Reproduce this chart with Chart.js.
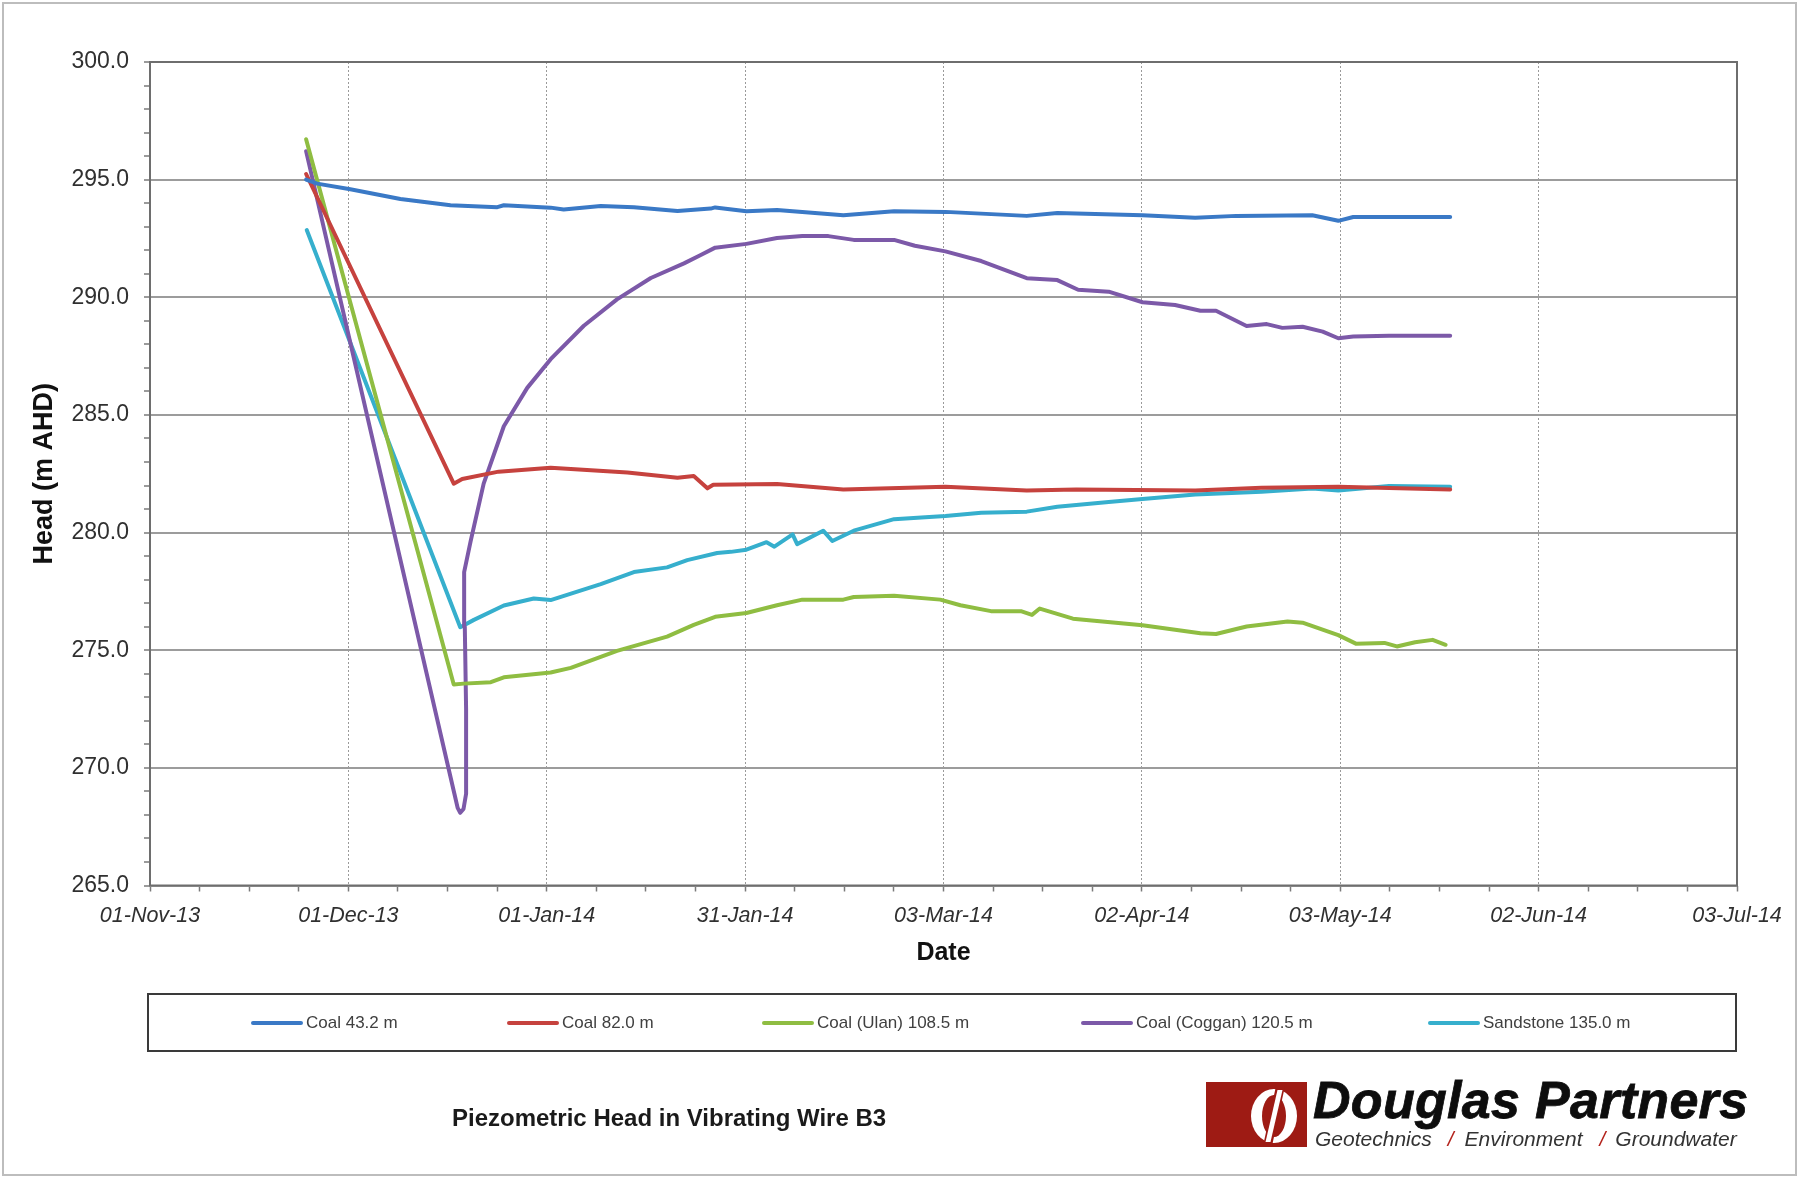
<!DOCTYPE html>
<html lang="en">

<head>
    <meta charset="UTF-8">
    <title>Piezometric Head in Vibrating Wire B3</title>
    <script src="https://cdn.jsdelivr.net/npm/chart.js"></script>
    <style>
        body { margin: 0; background: #fff; font-family: "Liberation Sans", Arial, sans-serif; }
        #wrap { position: relative; width: 1803px; height: 1180px; overflow: hidden; background: #fff; }
        #chart { position: absolute; left: 0; top: 0; }
        #frame { position: absolute; left: 2px; top: 2px; width: 1795px; height: 1174px; border: 2px solid #bdbdbd; box-sizing: border-box; }
        #legend { position: absolute; left: 147px; top: 993px; width: 1590px; height: 59px; border: 2px solid #3a3a3a; box-sizing: border-box; }
        #legend .item { position: absolute; top: 0; height: 55px; display: flex; align-items: center; }
        #legend .item i { display: block; width: 52px; height: 4px; border-radius: 2px; margin-right: 3px; }
        #legend .item span { font-size: 17px; color: #404040; white-space: nowrap; }
        #caption { position: absolute; left: 452px; top: 1104px; font-size: 24px; line-height: 28px; font-weight: bold; color: #1a1a1a; white-space: nowrap; }
        #logoMark { position: absolute; left: 1206px; top: 1082px; }
        #logoName { position: absolute; left: 1313px; top: 1074px; font-size: 52px; line-height: 52px; font-weight: bold; font-style: italic; color: #0d0d0d; white-space: nowrap; letter-spacing: 0.3px; -webkit-text-stroke: 0.8px #0d0d0d; }
        #logoTag { position: absolute; left: 1315px; top: 1128px; font-size: 21px; line-height: 21px; font-style: italic; color: #333; white-space: nowrap; }
        #logoTag b { font-weight: normal; color: #b3221b; }
    </style>
</head>

<body>
    <div id="wrap">
        <canvas id="chart" width="1803" height="1180"></canvas>
        <div id="legend"></div>
        <div id="caption">Piezometric Head in Vibrating Wire B3</div>
        <svg id="logoMark" width="101" height="65" viewBox="0 0 101 65">
            <rect x="0" y="0" width="101" height="65" fill="#9e1b14" />
            <ellipse cx="68" cy="34" rx="23" ry="27" fill="#fff" />
            <ellipse cx="68" cy="34" rx="12" ry="21" fill="#9e1b14" />
            <polygon points="70,4 79,4 66,64 57,64" fill="#9e1b14" />
            <polygon points="71.5,8 76.5,8 64.5,60 59.5,60" fill="#fff" />
        </svg>
        <div id="logoName">Douglas Partners</div>
        <div id="logoTag">Geotechnics<b style="margin:0 11px 0 16px">/</b>Environment<b style="margin:0 10px 0 17px">/</b>Groundwater</div>
        <div id="frame"></div>
    </div>

    <script>
        // x axis runs in days counted from 01-Nov-13, major unit 30.5 days (as in the Excel sheet)
        const xTickLabels = ['01-Nov-13', '01-Dec-13', '01-Jan-14', '31-Jan-14', '03-Mar-14',
            '02-Apr-14', '03-May-14', '02-Jun-14', '03-Jul-14'];

        const seriesNames = ['Coal 43.2 m', 'Coal 82.0 m', 'Coal (Ulan) 108.5 m', 'Coal (Coggan) 120.5 m', 'Sandstone 135.0 m'];
        const seriesColors = ['#3a79c6', '#c6423e', '#8fbd42', '#7c59a8', '#36afcd'];

        // Coal 43.2 m
        const coal43Days = [24.0, 25.7, 30.8, 38.5, 46.2, 53.4, 54.4, 61.6, 63.6, 69.3, 74.4, 81.1, 86.2, 86.9,
            91.7, 96.4, 106.6, 114.4, 122.3, 134.8, 139.5, 152.6, 160.7, 167.0, 178.7, 182.7, 185.0, 199.9];
        const coal43Head = [295.00, 294.83, 294.59, 294.18, 293.91, 293.83, 293.91, 293.81, 293.73, 293.88, 293.83, 293.67, 293.77, 293.82,
            293.66, 293.71, 293.49, 293.66, 293.63, 293.46, 293.58, 293.49, 293.38, 293.46, 293.49, 293.25, 293.41, 293.41];

        // Coal 82.0 m
        const coal82Days = [24.0, 46.7, 48.0, 53.6, 61.6, 73.4, 81.1, 83.6, 85.7, 86.6, 96.4, 106.6, 122.3,
            134.8, 142.4, 160.7, 170.9, 182.7, 199.9];
        const coal82Head = [295.24, 282.08, 282.28, 282.59, 282.75, 282.55, 282.33, 282.40, 281.88, 282.03, 282.06, 281.83, 281.95,
            281.79, 281.83, 281.79, 281.90, 281.95, 281.83];

        // Coal (Ulan) 108.5 m
        const ulanDays = [24.0, 46.7, 48.2, 52.4, 54.4, 61.6, 64.7, 71.8, 79.5, 83.6, 86.9, 91.7, 96.4, 100.3,
            106.6, 108.2, 114.4, 121.5, 124.6, 129.3, 133.9, 135.6, 136.8, 141.9, 152.6, 161.5, 163.9, 168.6,
            174.9, 177.2, 182.7, 185.4, 189.8, 191.7, 194.5, 197.2, 199.2];
        const ulanHead = [296.72, 273.54, 273.58, 273.64, 273.85, 274.05, 274.25, 274.97, 275.58, 276.08, 276.42, 276.58, 276.91, 277.15,
            277.15, 277.26, 277.31, 277.15, 276.91, 276.66, 276.66, 276.50, 276.77, 276.34, 276.06, 275.72, 275.69, 276.01,
            276.22, 276.17, 275.64, 275.28, 275.31, 275.16, 275.34, 275.44, 275.23];

        // Coal (Coggan) 120.5 m
        const cogganDays = [24.0, 46.8, 47.3, 47.7, 48.2, 48.6, 48.6, 48.4, 48.3, 49.3, 51.3, 54.4, 58.0, 61.6, 66.7, 71.8,
            77.0, 82.1, 84.6, 86.9, 91.7, 96.4, 100.3, 104.3, 108.2, 114.4, 117.6, 122.3, 127.8, 134.8,
            139.5, 142.7, 147.4, 152.6, 157.6, 161.5, 163.9, 168.6, 171.7, 174.1, 177.2, 180.3, 182.7, 185.0,
            190.5, 199.9];
        const cogganHead = [296.21, 268.90, 268.30, 268.09, 268.25, 268.90, 272.50, 276.00, 278.32, 279.64, 282.08, 284.52, 286.15, 287.37, 288.79, 289.91,
            290.82, 291.44, 291.79, 292.11, 292.27, 292.52, 292.60, 292.60, 292.44, 292.44, 292.19, 291.95, 291.54, 290.81,
            290.73, 290.32, 290.24, 289.79, 289.67, 289.43, 289.43, 288.78, 288.86, 288.70, 288.75, 288.54, 288.26, 288.33,
            288.37, 288.37];

        // Sandstone 135.0 m
        const sandDays = [24.1, 47.7, 49.8, 54.4, 59.0, 61.6, 69.3, 74.4, 79.5, 82.6, 87.2, 89.3, 91.7, 94.8,
            96.0, 98.8, 99.5, 103.5, 104.9, 108.2, 114.4, 119.2, 122.3, 127.8, 134.8, 139.5, 147.4, 152.6,
            160.7, 170.9, 178.7, 182.7, 190.5, 199.9];
        const sandHead = [292.86, 275.98, 276.29, 276.90, 277.20, 277.13, 277.81, 278.32, 278.52, 278.83, 279.13, 279.18, 279.27, 279.59,
            279.40, 279.92, 279.51, 280.08, 279.64, 280.08, 280.57, 280.65, 280.70, 280.84, 280.89, 281.10, 281.30, 281.43,
            281.62, 281.73, 281.87, 281.79, 281.98, 281.95];

        const seriesDays = [coal43Days, coal82Days, ulanDays, cogganDays, sandDays];
        const seriesHead = [coal43Head, coal82Head, ulanHead, cogganHead, sandHead];

        // left edge of each legend sample, page pixels
        const legendLeft = [251, 507, 762, 1081, 1428];

        const MAJOR_X = 30.5;
        const isMajorX = v => Math.abs(v / MAJOR_X - Math.round(v / MAJOR_X)) < 1e-6;

        Chart.defaults.font.family = "'Liberation Sans', Arial, sans-serif";

        // plot area frame like the Excel one
        const plotFrame = {
            id: 'plotFrame',
            afterDraw(chart) {
                const { ctx, chartArea: a } = chart;
                ctx.save();
                ctx.strokeStyle = '#6e6e6e';
                ctx.lineWidth = 2;
                ctx.strokeRect(a.left, a.top, a.right - a.left, a.bottom - a.top);
                ctx.restore();
            }
        };

        const datasets = seriesNames.map((name, i) => ({
            label: name,
            data: seriesDays[i].map((d, j) => ({ x: d, y: seriesHead[i][j] })),
            borderColor: seriesColors[i],
            backgroundColor: seriesColors[i],
            borderWidth: 4,
            pointRadius: 0,
            tension: 0,
            borderJoinStyle: 'round',
            borderCapStyle: 'round',
            fill: false
        }));

        new Chart(document.getElementById('chart'), {
            type: 'line',
            data: { datasets: datasets },
            plugins: [plotFrame],
            options: {
                responsive: false,
                animation: false,
                layout: { padding: { left: 0, top: 62, right: 66, bottom: 204.5 } },
                plugins: {
                    legend: { display: false },
                    tooltip: { enabled: false }
                },
                scales: {
                    x: {
                        type: 'linear',
                        min: 0,
                        max: 244,
                        ticks: {
                            stepSize: MAJOR_X / 4,
                            autoSkip: false,
                            maxRotation: 0,
                            padding: 12,
                            color: '#303030',
                            font: { size: 21.5, style: 'italic' },
                            callback: v => isMajorX(v) ? xTickLabels[Math.round(v / MAJOR_X)] : ''
                        },
                        grid: {
                            color: c => isMajorX(c.tick.value) ? '#9a9a9a' : 'rgba(0,0,0,0)',
                            lineWidth: 1,
                            tickLength: 6,
                            tickColor: '#7a7a7a',
                            tickWidth: 1.5
                        },
                        border: { display: false, dash: [2, 2] },
                        title: {
                            display: true,
                            text: 'Date',
                            color: '#111',
                            font: { size: 25, weight: 'bold' },
                            padding: { top: 0, bottom: 7 }
                        },
                        afterFit: s => { s.height = 90; }
                    },
                    y: {
                        min: 265,
                        max: 300,
                        ticks: {
                            stepSize: 1,
                            autoSkip: false,
                            padding: 15,
                            color: '#303030',
                            font: { size: 23 },
                            callback: v => v % 5 === 0 ? v.toFixed(1) : ''
                        },
                        grid: {
                            color: c => c.tick.value % 5 === 0 ? '#9c9c9c' : 'rgba(0,0,0,0)',
                            lineWidth: 2,
                            tickLength: 6,
                            tickColor: '#7a7a7a',
                            tickWidth: 1.5
                        },
                        border: { display: false },
                        title: {
                            display: true,
                            text: 'Head (m AHD)',
                            color: '#111',
                            font: { size: 27, weight: 'bold' },
                            padding: { top: 28, bottom: 0 }
                        },
                        afterFit: s => { s.width = 150; }
                    }
                }
            }
        });

        // legend row inside the framed box
        const legendEl = document.getElementById('legend');
        seriesNames.forEach((name, i) => {
            const item = document.createElement('div');
            item.className = 'item';
            item.style.left = (legendLeft[i] - 149) + 'px';
            item.innerHTML = `<i style="background:${seriesColors[i]}"></i><span>${name}</span>`;
            legendEl.appendChild(item);
        });
    </script>
</body>

</html>
